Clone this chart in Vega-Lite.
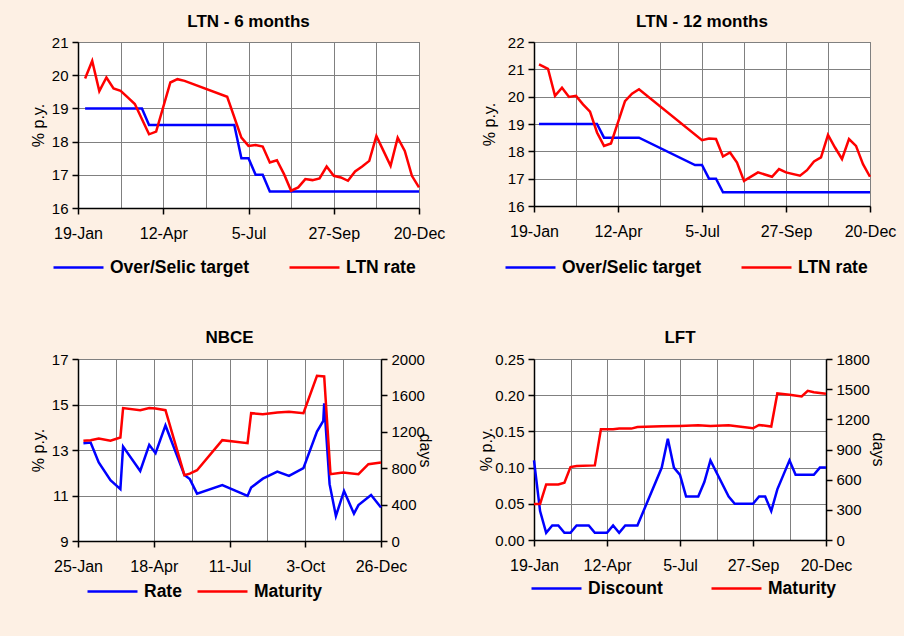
{
  "$schema": "https://vega.github.io/schema/vega-lite/v6.json",
  "background": "#FDF0E4",
  "padding": {"left": 29, "top": 12, "right": 22, "bottom": 38},
  "bounds": "flush",
  "columns": 2,
  "spacing": {"row": 151, "column": 115},
  "resolve": {"scale": {"x": "independent", "y": "independent", "color": "independent"}, "legend": {"color": "independent"}},
  "config": {
    "font": "Liberation Sans",
    "view": {"fill": "white", "stroke": "#606060", "strokeWidth": 1},
    "axis": {"domainColor": "black", "domainWidth": 1.5, "tickColor": "black", "tickWidth": 1.5, "tickSize": 6, "gridColor": "#808080", "gridWidth": 1, "labelFont": "Liberation Sans", "labelColor": "black", "labelFontSize": 15, "titleFont": "Liberation Sans", "titleFontSize": 16, "titleFontWeight": "normal", "titleColor": "black"},
    "axisX": {"labelFontSize": 16, "labelFlush": false, "labelOverlap": false, "labelPadding": 11},
    "axisY": {"labelPadding": 4},
    "legend": {"symbolType": "stroke", "symbolSize": 2500, "symbolStrokeWidth": 3, "labelFont": "Liberation Sans", "labelFontSize": 17.5, "labelFontWeight": "bold", "labelColor": "black", "labelOffset": 5, "padding": 0},
    "title": {"font": "Liberation Sans", "fontSize": 17, "fontWeight": "bold", "color": "black", "offset": 4},
    "line": {"strokeWidth": 2.5}
  },
  "datasets": {
    "ltn6": [
      {"date": "2000-01-26", "series": "Over/Selic target", "value": 19},
      {"date": "2000-03-22", "series": "Over/Selic target", "value": 19},
      {"date": "2000-03-29", "series": "Over/Selic target", "value": 18.5},
      {"date": "2000-06-21", "series": "Over/Selic target", "value": 18.5},
      {"date": "2000-06-28", "series": "Over/Selic target", "value": 17.5},
      {"date": "2000-07-05", "series": "Over/Selic target", "value": 17.5},
      {"date": "2000-07-12", "series": "Over/Selic target", "value": 17},
      {"date": "2000-07-19", "series": "Over/Selic target", "value": 17},
      {"date": "2000-07-26", "series": "Over/Selic target", "value": 16.5},
      {"date": "2000-12-20", "series": "Over/Selic target", "value": 16.5},
      {"date": "2000-01-26", "series": "LTN rate", "value": 19.9},
      {"date": "2000-02-02", "series": "LTN rate", "value": 20.43},
      {"date": "2000-02-09", "series": "LTN rate", "value": 19.52},
      {"date": "2000-02-16", "series": "LTN rate", "value": 19.93},
      {"date": "2000-02-23", "series": "LTN rate", "value": 19.6},
      {"date": "2000-03-01", "series": "LTN rate", "value": 19.53},
      {"date": "2000-03-08", "series": "LTN rate", "value": 19.33},
      {"date": "2000-03-15", "series": "LTN rate", "value": 19.13},
      {"date": "2000-03-29", "series": "LTN rate", "value": 18.22},
      {"date": "2000-04-05", "series": "LTN rate", "value": 18.3},
      {"date": "2000-04-19", "series": "LTN rate", "value": 19.78},
      {"date": "2000-04-26", "series": "LTN rate", "value": 19.88},
      {"date": "2000-05-03", "series": "LTN rate", "value": 19.83},
      {"date": "2000-06-14", "series": "LTN rate", "value": 19.35},
      {"date": "2000-06-28", "series": "LTN rate", "value": 18.12},
      {"date": "2000-07-05", "series": "LTN rate", "value": 17.87},
      {"date": "2000-07-12", "series": "LTN rate", "value": 17.9},
      {"date": "2000-07-19", "series": "LTN rate", "value": 17.85},
      {"date": "2000-07-26", "series": "LTN rate", "value": 17.37},
      {"date": "2000-08-02", "series": "LTN rate", "value": 17.44},
      {"date": "2000-08-09", "series": "LTN rate", "value": 17.02},
      {"date": "2000-08-16", "series": "LTN rate", "value": 16.52},
      {"date": "2000-08-23", "series": "LTN rate", "value": 16.62},
      {"date": "2000-08-30", "series": "LTN rate", "value": 16.87},
      {"date": "2000-09-06", "series": "LTN rate", "value": 16.84},
      {"date": "2000-09-13", "series": "LTN rate", "value": 16.89},
      {"date": "2000-09-20", "series": "LTN rate", "value": 17.25},
      {"date": "2000-09-27", "series": "LTN rate", "value": 16.97},
      {"date": "2000-10-04", "series": "LTN rate", "value": 16.92},
      {"date": "2000-10-11", "series": "LTN rate", "value": 16.82},
      {"date": "2000-10-18", "series": "LTN rate", "value": 17.1},
      {"date": "2000-10-25", "series": "LTN rate", "value": 17.25},
      {"date": "2000-11-01", "series": "LTN rate", "value": 17.42},
      {"date": "2000-11-08", "series": "LTN rate", "value": 18.17},
      {"date": "2000-11-15", "series": "LTN rate", "value": 17.72},
      {"date": "2000-11-22", "series": "LTN rate", "value": 17.27},
      {"date": "2000-11-29", "series": "LTN rate", "value": 18.12},
      {"date": "2000-12-06", "series": "LTN rate", "value": 17.72},
      {"date": "2000-12-13", "series": "LTN rate", "value": 16.97},
      {"date": "2000-12-20", "series": "LTN rate", "value": 16.62}
    ],
    "ltn12": [
      {"date": "2000-01-24", "series": "Over/Selic target", "value": 19},
      {"date": "2000-03-22", "series": "Over/Selic target", "value": 19},
      {"date": "2000-03-29", "series": "Over/Selic target", "value": 18.5},
      {"date": "2000-05-03", "series": "Over/Selic target", "value": 18.5},
      {"date": "2000-06-28", "series": "Over/Selic target", "value": 17.5},
      {"date": "2000-07-05", "series": "Over/Selic target", "value": 17.5},
      {"date": "2000-07-12", "series": "Over/Selic target", "value": 17},
      {"date": "2000-07-19", "series": "Over/Selic target", "value": 17},
      {"date": "2000-07-26", "series": "Over/Selic target", "value": 16.5},
      {"date": "2000-12-20", "series": "Over/Selic target", "value": 16.5},
      {"date": "2000-01-24", "series": "LTN rate", "value": 21.18},
      {"date": "2000-02-02", "series": "LTN rate", "value": 21.02},
      {"date": "2000-02-09", "series": "LTN rate", "value": 20.03},
      {"date": "2000-02-16", "series": "LTN rate", "value": 20.33},
      {"date": "2000-02-23", "series": "LTN rate", "value": 19.99},
      {"date": "2000-03-01", "series": "LTN rate", "value": 20.03},
      {"date": "2000-03-08", "series": "LTN rate", "value": 19.72},
      {"date": "2000-03-15", "series": "LTN rate", "value": 19.45},
      {"date": "2000-03-22", "series": "LTN rate", "value": 18.69},
      {"date": "2000-03-29", "series": "LTN rate", "value": 18.2},
      {"date": "2000-04-05", "series": "LTN rate", "value": 18.29},
      {"date": "2000-04-19", "series": "LTN rate", "value": 19.84},
      {"date": "2000-04-26", "series": "LTN rate", "value": 20.11},
      {"date": "2000-05-03", "series": "LTN rate", "value": 20.27},
      {"date": "2000-07-05", "series": "LTN rate", "value": 18.41},
      {"date": "2000-07-12", "series": "LTN rate", "value": 18.47},
      {"date": "2000-07-19", "series": "LTN rate", "value": 18.45},
      {"date": "2000-07-26", "series": "LTN rate", "value": 17.81},
      {"date": "2000-08-02", "series": "LTN rate", "value": 17.96},
      {"date": "2000-08-09", "series": "LTN rate", "value": 17.59},
      {"date": "2000-08-16", "series": "LTN rate", "value": 16.92},
      {"date": "2000-08-30", "series": "LTN rate", "value": 17.23},
      {"date": "2000-09-13", "series": "LTN rate", "value": 17.07},
      {"date": "2000-09-20", "series": "LTN rate", "value": 17.35},
      {"date": "2000-09-27", "series": "LTN rate", "value": 17.23},
      {"date": "2000-10-11", "series": "LTN rate", "value": 17.11},
      {"date": "2000-10-18", "series": "LTN rate", "value": 17.31},
      {"date": "2000-10-25", "series": "LTN rate", "value": 17.63},
      {"date": "2000-11-01", "series": "LTN rate", "value": 17.78},
      {"date": "2000-11-08", "series": "LTN rate", "value": 18.6},
      {"date": "2000-11-15", "series": "LTN rate", "value": 18.14},
      {"date": "2000-11-22", "series": "LTN rate", "value": 17.72},
      {"date": "2000-11-29", "series": "LTN rate", "value": 18.45},
      {"date": "2000-12-06", "series": "LTN rate", "value": 18.2},
      {"date": "2000-12-13", "series": "LTN rate", "value": 17.53},
      {"date": "2000-12-20", "series": "LTN rate", "value": 17.07}
    ],
    "nbce": [
      {"date": "2000-01-31", "series": "Rate", "value": 13.3},
      {"date": "2000-02-08", "series": "Rate", "value": 13.33},
      {"date": "2000-02-17", "series": "Rate", "value": 12.45},
      {"date": "2000-03-01", "series": "Rate", "value": 11.67},
      {"date": "2000-03-12", "series": "Rate", "value": 11.28},
      {"date": "2000-03-15", "series": "Rate", "value": 13.15},
      {"date": "2000-04-03", "series": "Rate", "value": 12.08},
      {"date": "2000-04-13", "series": "Rate", "value": 13.23},
      {"date": "2000-04-20", "series": "Rate", "value": 12.86},
      {"date": "2000-05-01", "series": "Rate", "value": 14.08},
      {"date": "2000-05-22", "series": "Rate", "value": 11.9},
      {"date": "2000-05-28", "series": "Rate", "value": 11.72},
      {"date": "2000-06-05", "series": "Rate", "value": 11.08},
      {"date": "2000-07-03", "series": "Rate", "value": 11.46},
      {"date": "2000-07-31", "series": "Rate", "value": 10.98},
      {"date": "2000-08-04", "series": "Rate", "value": 11.35},
      {"date": "2000-08-17", "series": "Rate", "value": 11.74},
      {"date": "2000-09-02", "series": "Rate", "value": 12.05},
      {"date": "2000-09-15", "series": "Rate", "value": 11.86},
      {"date": "2000-10-01", "series": "Rate", "value": 12.2},
      {"date": "2000-10-16", "series": "Rate", "value": 13.81},
      {"date": "2000-10-23", "series": "Rate", "value": 14.28},
      {"date": "2000-10-24", "series": "Rate", "value": 15.05},
      {"date": "2000-10-30", "series": "Rate", "value": 11.5},
      {"date": "2000-11-06", "series": "Rate", "value": 10.1},
      {"date": "2000-11-15", "series": "Rate", "value": 11.2},
      {"date": "2000-11-26", "series": "Rate", "value": 10.2},
      {"date": "2000-12-01", "series": "Rate", "value": 10.58},
      {"date": "2000-12-15", "series": "Rate", "value": 11.02},
      {"date": "2000-12-26", "series": "Rate", "value": 10.47},
      {"date": "2000-01-31", "series": "Maturity", "value": 1101},
      {"date": "2000-02-08", "series": "Maturity", "value": 1108},
      {"date": "2000-02-17", "series": "Maturity", "value": 1126},
      {"date": "2000-03-01", "series": "Maturity", "value": 1101},
      {"date": "2000-03-12", "series": "Maturity", "value": 1137},
      {"date": "2000-03-15", "series": "Maturity", "value": 1461},
      {"date": "2000-04-03", "series": "Maturity", "value": 1438},
      {"date": "2000-04-13", "series": "Maturity", "value": 1461},
      {"date": "2000-04-20", "series": "Maturity", "value": 1455},
      {"date": "2000-05-01", "series": "Maturity", "value": 1438},
      {"date": "2000-05-22", "series": "Maturity", "value": 723},
      {"date": "2000-05-28", "series": "Maturity", "value": 740},
      {"date": "2000-06-05", "series": "Maturity", "value": 778},
      {"date": "2000-07-03", "series": "Maturity", "value": 1108},
      {"date": "2000-07-31", "series": "Maturity", "value": 1075},
      {"date": "2000-08-04", "series": "Maturity", "value": 1405},
      {"date": "2000-08-17", "series": "Maturity", "value": 1394},
      {"date": "2000-09-02", "series": "Maturity", "value": 1412},
      {"date": "2000-09-15", "series": "Maturity", "value": 1420},
      {"date": "2000-10-01", "series": "Maturity", "value": 1405},
      {"date": "2000-10-16", "series": "Maturity", "value": 1816},
      {"date": "2000-10-24", "series": "Maturity", "value": 1808},
      {"date": "2000-10-31", "series": "Maturity", "value": 734},
      {"date": "2000-11-14", "series": "Maturity", "value": 752},
      {"date": "2000-12-01", "series": "Maturity", "value": 734},
      {"date": "2000-12-12", "series": "Maturity", "value": 844},
      {"date": "2000-12-26", "series": "Maturity", "value": 862}
    ],
    "lft": [
      {"date": "2000-01-19", "series": "Discount", "value": 0.11},
      {"date": "2000-01-26", "series": "Discount", "value": 0.04},
      {"date": "2000-02-02", "series": "Discount", "value": 0.01},
      {"date": "2000-02-09", "series": "Discount", "value": 0.02},
      {"date": "2000-02-16", "series": "Discount", "value": 0.02},
      {"date": "2000-02-23", "series": "Discount", "value": 0.01},
      {"date": "2000-03-01", "series": "Discount", "value": 0.01},
      {"date": "2000-03-08", "series": "Discount", "value": 0.02},
      {"date": "2000-03-22", "series": "Discount", "value": 0.02},
      {"date": "2000-03-29", "series": "Discount", "value": 0.01},
      {"date": "2000-04-12", "series": "Discount", "value": 0.01},
      {"date": "2000-04-19", "series": "Discount", "value": 0.02},
      {"date": "2000-04-26", "series": "Discount", "value": 0.01},
      {"date": "2000-05-03", "series": "Discount", "value": 0.02},
      {"date": "2000-05-17", "series": "Discount", "value": 0.02},
      {"date": "2000-06-14", "series": "Discount", "value": 0.10},
      {"date": "2000-06-21", "series": "Discount", "value": 0.14},
      {"date": "2000-06-28", "series": "Discount", "value": 0.10},
      {"date": "2000-07-05", "series": "Discount", "value": 0.09},
      {"date": "2000-07-12", "series": "Discount", "value": 0.06},
      {"date": "2000-07-26", "series": "Discount", "value": 0.06},
      {"date": "2000-08-02", "series": "Discount", "value": 0.08},
      {"date": "2000-08-09", "series": "Discount", "value": 0.11},
      {"date": "2000-08-30", "series": "Discount", "value": 0.06},
      {"date": "2000-09-06", "series": "Discount", "value": 0.05},
      {"date": "2000-09-27", "series": "Discount", "value": 0.05},
      {"date": "2000-10-04", "series": "Discount", "value": 0.06},
      {"date": "2000-10-11", "series": "Discount", "value": 0.06},
      {"date": "2000-10-18", "series": "Discount", "value": 0.04},
      {"date": "2000-10-25", "series": "Discount", "value": 0.07},
      {"date": "2000-11-08", "series": "Discount", "value": 0.11},
      {"date": "2000-11-15", "series": "Discount", "value": 0.09},
      {"date": "2000-12-06", "series": "Discount", "value": 0.09},
      {"date": "2000-12-13", "series": "Discount", "value": 0.10},
      {"date": "2000-12-20", "series": "Discount", "value": 0.10},
      {"date": "2000-01-19", "series": "Maturity", "value": 359},
      {"date": "2000-01-26", "series": "Maturity", "value": 359},
      {"date": "2000-02-02", "series": "Maturity", "value": 552},
      {"date": "2000-02-16", "series": "Maturity", "value": 552},
      {"date": "2000-02-23", "series": "Maturity", "value": 569},
      {"date": "2000-03-01", "series": "Maturity", "value": 725},
      {"date": "2000-03-08", "series": "Maturity", "value": 735},
      {"date": "2000-03-29", "series": "Maturity", "value": 742},
      {"date": "2000-04-05", "series": "Maturity", "value": 1101},
      {"date": "2000-04-19", "series": "Maturity", "value": 1101},
      {"date": "2000-04-26", "series": "Maturity", "value": 1108},
      {"date": "2000-05-10", "series": "Maturity", "value": 1108},
      {"date": "2000-05-17", "series": "Maturity", "value": 1124},
      {"date": "2000-06-14", "series": "Maturity", "value": 1131},
      {"date": "2000-07-05", "series": "Maturity", "value": 1134},
      {"date": "2000-07-26", "series": "Maturity", "value": 1141},
      {"date": "2000-08-09", "series": "Maturity", "value": 1134},
      {"date": "2000-08-30", "series": "Maturity", "value": 1141},
      {"date": "2000-09-27", "series": "Maturity", "value": 1111},
      {"date": "2000-10-04", "series": "Maturity", "value": 1144},
      {"date": "2000-10-18", "series": "Maturity", "value": 1128},
      {"date": "2000-10-25", "series": "Maturity", "value": 1457},
      {"date": "2000-11-08", "series": "Maturity", "value": 1444},
      {"date": "2000-11-22", "series": "Maturity", "value": 1427},
      {"date": "2000-11-29", "series": "Maturity", "value": 1484},
      {"date": "2000-12-06", "series": "Maturity", "value": 1470},
      {"date": "2000-12-20", "series": "Maturity", "value": 1454}
    ]
  },
  "concat": [
    {
      "title": "LTN - 6 months",
      "width": 341, "height": 166,
      "data": {"name": "ltn6"},
      "mark": "line",
      "encoding": {
        "x": {"field": "date", "type": "temporal",
          "scale": {"type": "utc", "nice": false, "domain": [{"year": 2000, "month": 1, "date": 19, "utc": true}, {"year": 2000, "month": 12, "date": 20, "utc": true}]},
          "axis": {"title": null, "grid": true, "format": "%-d-%b",
            "values": [{"year": 2000, "month": 1, "date": 19, "utc": true}, {"year": 2000, "month": 3, "date": 1, "utc": true}, {"year": 2000, "month": 4, "date": 12, "utc": true}, {"year": 2000, "month": 5, "date": 24, "utc": true}, {"year": 2000, "month": 7, "date": 5, "utc": true}, {"year": 2000, "month": 8, "date": 16, "utc": true}, {"year": 2000, "month": 9, "date": 27, "utc": true}, {"year": 2000, "month": 11, "date": 8, "utc": true}, {"year": 2000, "month": 12, "date": 20, "utc": true}],
            "labelExpr": "round((datum.value - utc(2000,0,19))/86400000) % 84 == 0 ? datum.label : ''",
            "tickOpacity": {"condition": {"test": "round((datum.value - utc(2000,0,19))/86400000) % 84 == 0", "value": 1}, "value": 0}}},
        "y": {"field": "value", "type": "quantitative", "scale": {"domain": [16, 21], "nice": false, "zero": false},
          "axis": {"values": [16, 17, 18, 19, 20, 21], "title": "% p.y.", "titleX": -40, "titleY": 83, "titleAngle": -90, "titleAlign": "center", "titleBaseline": "middle"}},
        "color": {"field": "series", "type": "nominal", "scale": {"domain": ["Over/Selic target", "LTN rate"], "range": ["#0000FF", "#FF0000"]},
          "legend": {"title": null, "orient": "none", "legendX": -26, "legendY": 199, "direction": "horizontal", "columns": 2, "columnPadding": 34}}
      }
    },
    {
      "title": "LTN - 12 months",
      "width": 336, "height": 164,
      "data": {"name": "ltn12"},
      "mark": "line",
      "encoding": {
        "x": {"field": "date", "type": "temporal",
          "scale": {"type": "utc", "nice": false, "domain": [{"year": 2000, "month": 1, "date": 19, "utc": true}, {"year": 2000, "month": 12, "date": 20, "utc": true}]},
          "axis": {"title": null, "grid": true, "format": "%-d-%b",
            "values": [{"year": 2000, "month": 1, "date": 19, "utc": true}, {"year": 2000, "month": 3, "date": 1, "utc": true}, {"year": 2000, "month": 4, "date": 12, "utc": true}, {"year": 2000, "month": 5, "date": 24, "utc": true}, {"year": 2000, "month": 7, "date": 5, "utc": true}, {"year": 2000, "month": 8, "date": 16, "utc": true}, {"year": 2000, "month": 9, "date": 27, "utc": true}, {"year": 2000, "month": 11, "date": 8, "utc": true}, {"year": 2000, "month": 12, "date": 20, "utc": true}],
            "labelExpr": "round((datum.value - utc(2000,0,19))/86400000) % 84 == 0 ? datum.label : ''",
            "tickOpacity": {"condition": {"test": "round((datum.value - utc(2000,0,19))/86400000) % 84 == 0", "value": 1}, "value": 0}}},
        "y": {"field": "value", "type": "quantitative", "scale": {"domain": [16, 22], "nice": false, "zero": false},
          "axis": {"values": [16, 17, 18, 19, 20, 21, 22], "title": "% p.y.", "titleX": -45, "titleY": 82, "titleAngle": -90, "titleAlign": "center", "titleBaseline": "middle"}},
        "color": {"field": "series", "type": "nominal", "scale": {"domain": ["Over/Selic target", "LTN rate"], "range": ["#0000FF", "#FF0000"]},
          "legend": {"title": null, "orient": "none", "legendX": -30, "legendY": 199, "direction": "horizontal", "columns": 2, "columnPadding": 34}}
      }
    },
    {
      "title": {"text": "NBCE", "offset": 5},
      "width": 303, "height": 182,
      "data": {"name": "nbce"},
      "encoding": {
        "x": {"field": "date", "type": "temporal",
          "scale": {"type": "utc", "nice": false, "domain": [{"year": 2000, "month": 1, "date": 25, "utc": true}, {"year": 2000, "month": 12, "date": 26, "utc": true}]},
          "axis": {"title": null, "grid": true, "format": "%-d-%b",
            "values": [{"year": 2000, "month": 1, "date": 25, "utc": true}, {"year": 2000, "month": 3, "date": 7, "utc": true}, {"year": 2000, "month": 4, "date": 18, "utc": true}, {"year": 2000, "month": 5, "date": 30, "utc": true}, {"year": 2000, "month": 7, "date": 11, "utc": true}, {"year": 2000, "month": 8, "date": 22, "utc": true}, {"year": 2000, "month": 10, "date": 3, "utc": true}, {"year": 2000, "month": 11, "date": 14, "utc": true}, {"year": 2000, "month": 12, "date": 26, "utc": true}],
            "labelExpr": "round((datum.value - utc(2000,0,25))/86400000) % 84 == 0 ? datum.label : ''",
            "tickOpacity": {"condition": {"test": "round((datum.value - utc(2000,0,25))/86400000) % 84 == 0", "value": 1}, "value": 0}}},
        "color": {"field": "series", "type": "nominal", "scale": {"domain": ["Rate", "Maturity"], "range": ["#0000FF", "#FF0000"]},
          "legend": {"title": null, "orient": "none", "legendX": 8, "legendY": 206, "direction": "horizontal", "columns": 2, "columnPadding": 10}}
      },
      "layer": [
        {
          "transform": [{"filter": "datum.series == 'Rate'"}],
          "mark": "line",
          "encoding": {
            "y": {"field": "value", "type": "quantitative", "scale": {"domain": [9, 17], "nice": false, "zero": false},
              "axis": {"values": [9, 11, 13, 15, 17], "title": "% p.y.", "titleX": -40, "titleY": 91, "titleAngle": -90, "titleAlign": "center", "titleBaseline": "middle"}}
          }
        },
        {
          "transform": [{"filter": "datum.series == 'Maturity'"}],
          "mark": "line",
          "encoding": {
            "y": {"field": "value", "type": "quantitative", "scale": {"domain": [0, 2000], "nice": false},
              "axis": {"orient": "right", "grid": false, "format": "d", "values": [0, 400, 800, 1200, 1600, 2000], "title": "days", "titleX": 43, "titleY": 91, "titleAngle": 90, "titleAlign": "center", "titleBaseline": "middle"}}
          }
        }
      ],
      "resolve": {"scale": {"y": "independent"}}
    },
    {
      "title": {"text": "LFT", "offset": 5},
      "width": 292, "height": 181,
      "data": {"name": "lft"},
      "encoding": {
        "x": {"field": "date", "type": "temporal",
          "scale": {"type": "utc", "nice": false, "domain": [{"year": 2000, "month": 1, "date": 19, "utc": true}, {"year": 2000, "month": 12, "date": 20, "utc": true}]},
          "axis": {"title": null, "grid": true, "format": "%-d-%b",
            "values": [{"year": 2000, "month": 1, "date": 19, "utc": true}, {"year": 2000, "month": 3, "date": 1, "utc": true}, {"year": 2000, "month": 4, "date": 12, "utc": true}, {"year": 2000, "month": 5, "date": 24, "utc": true}, {"year": 2000, "month": 7, "date": 5, "utc": true}, {"year": 2000, "month": 8, "date": 16, "utc": true}, {"year": 2000, "month": 9, "date": 27, "utc": true}, {"year": 2000, "month": 11, "date": 8, "utc": true}, {"year": 2000, "month": 12, "date": 20, "utc": true}],
            "labelExpr": "round((datum.value - utc(2000,0,19))/86400000) % 84 == 0 ? datum.label : ''",
            "tickOpacity": {"condition": {"test": "round((datum.value - utc(2000,0,19))/86400000) % 84 == 0", "value": 1}, "value": 0}}},
        "color": {"field": "series", "type": "nominal", "scale": {"domain": ["Discount", "Maturity"], "range": ["#0000FF", "#FF0000"]},
          "legend": {"title": null, "orient": "none", "legendX": -4, "legendY": 203, "direction": "horizontal", "columns": 2, "columnPadding": 43}}
      },
      "layer": [
        {
          "transform": [{"filter": "datum.series == 'Discount'"}],
          "mark": "line",
          "encoding": {
            "y": {"field": "value", "type": "quantitative", "scale": {"domain": [0, 0.25], "nice": false},
              "axis": {"values": [0, 0.05, 0.1, 0.15, 0.2, 0.25], "format": ".2f", "title": "% p.y.", "titleX": -48, "titleY": 90, "titleAngle": -90, "titleAlign": "center", "titleBaseline": "middle"}}
          }
        },
        {
          "transform": [{"filter": "datum.series == 'Maturity'"}],
          "mark": "line",
          "encoding": {
            "y": {"field": "value", "type": "quantitative", "scale": {"domain": [0, 1800], "nice": false},
              "axis": {"orient": "right", "grid": false, "format": "d", "values": [0, 300, 600, 900, 1200, 1500, 1800], "title": "days", "titleX": 51, "titleY": 90, "titleAngle": 90, "titleAlign": "center", "titleBaseline": "middle"}}
          }
        }
      ],
      "resolve": {"scale": {"y": "independent"}}
    }
  ]
}
